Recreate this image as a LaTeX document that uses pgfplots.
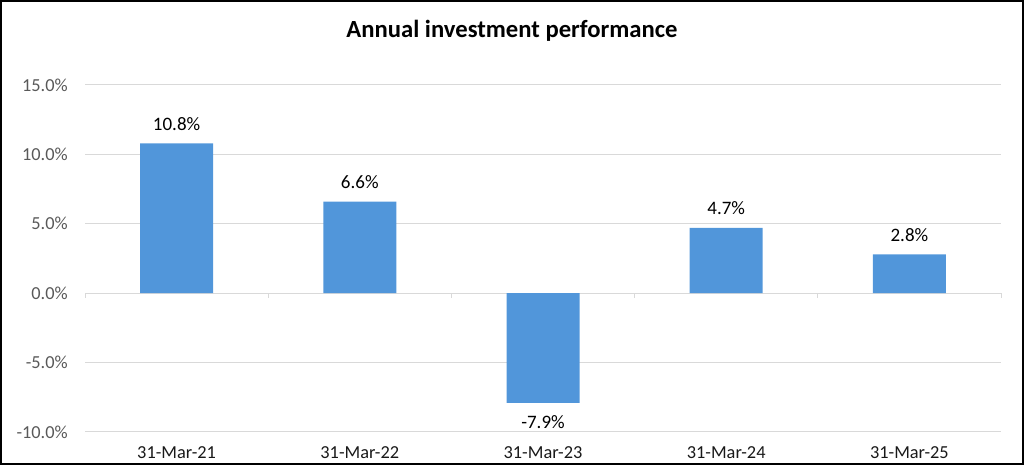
\documentclass[border=0pt]{standalone}
\usepackage{fontspec}
\setmainfont{Carlito}
\usepackage{pgfplots}
\pgfplotsset{compat=1.18}
\definecolor{barblue}{RGB}{81,150,218}
\definecolor{gridgray}{RGB}{217,217,217}
\definecolor{ticktext}{RGB}{89,89,89}
\begin{document}
\begin{tikzpicture}
\useasboundingbox (-63.75pt,-25.5pt) rectangle (704.25pt,324pt);
\draw[black, line width=1.5pt] (-63pt,-24pt) rectangle (703.5pt,323.25pt);
\node[anchor=base, font=\fontsize{18.5}{22}\selectfont\bfseries] at (320.25pt,295.5pt) {Annual investment performance};
\begin{axis}[
  at={(0,0)}, anchor=south west,
  scale only axis, width=687pt, height=260.25pt,
  xmin=-0.5, xmax=4.5, ymin=-10, ymax=15,
  axis line style={draw=none},
  ytick={-10,-5,0,5,10,15},
  yticklabels={-10.0\%,-5.0\%,0.0\%,5.0\%,10.0\%,15.0\%},
  xtick={0,1,2,3,4},
  xticklabels={31-Mar-21,31-Mar-22,31-Mar-23,31-Mar-24,31-Mar-25},
  major tick length=0pt,
  ymajorgrids, grid style={gridgray, line width=0.75pt},
  ybar, bar width=54.75pt,
  point meta=y,
  nodes near coords={\pgfmathprintnumber[fixed,fixed zerofill,precision=1,assume math mode=true]{\pgfplotspointmeta}\%},
  nodes near coords align=vertical,
  every node near coord/.append style={font=\fontsize{14.25}{17}\selectfont, black, inner ysep=9.5pt, inner xsep=0pt},
  yticklabel style={font=\fontsize{13.75}{16}\selectfont, text=ticktext, inner xsep=0pt, xshift=-12.75pt},
  xticklabel style={font=\fontsize{13.75}{16}\selectfont, text=black!90, inner ysep=0pt, yshift=-11pt},
  clip=false,
]
\addplot[fill=barblue, draw=none] coordinates {
  (0,10.8)
  (1,6.6)
  (2,-7.9)
  (3,4.7)
  (4,2.8)
};
\pgfplotsinvokeforeach{-0.5,0.5,1.5,2.5,3.5,4.5}{
  \draw[gridgray, line width=0.75pt] (axis cs:#1,0) -- ++(0pt,-3.75pt);
}
\end{axis}
\end{tikzpicture}
\end{document}
